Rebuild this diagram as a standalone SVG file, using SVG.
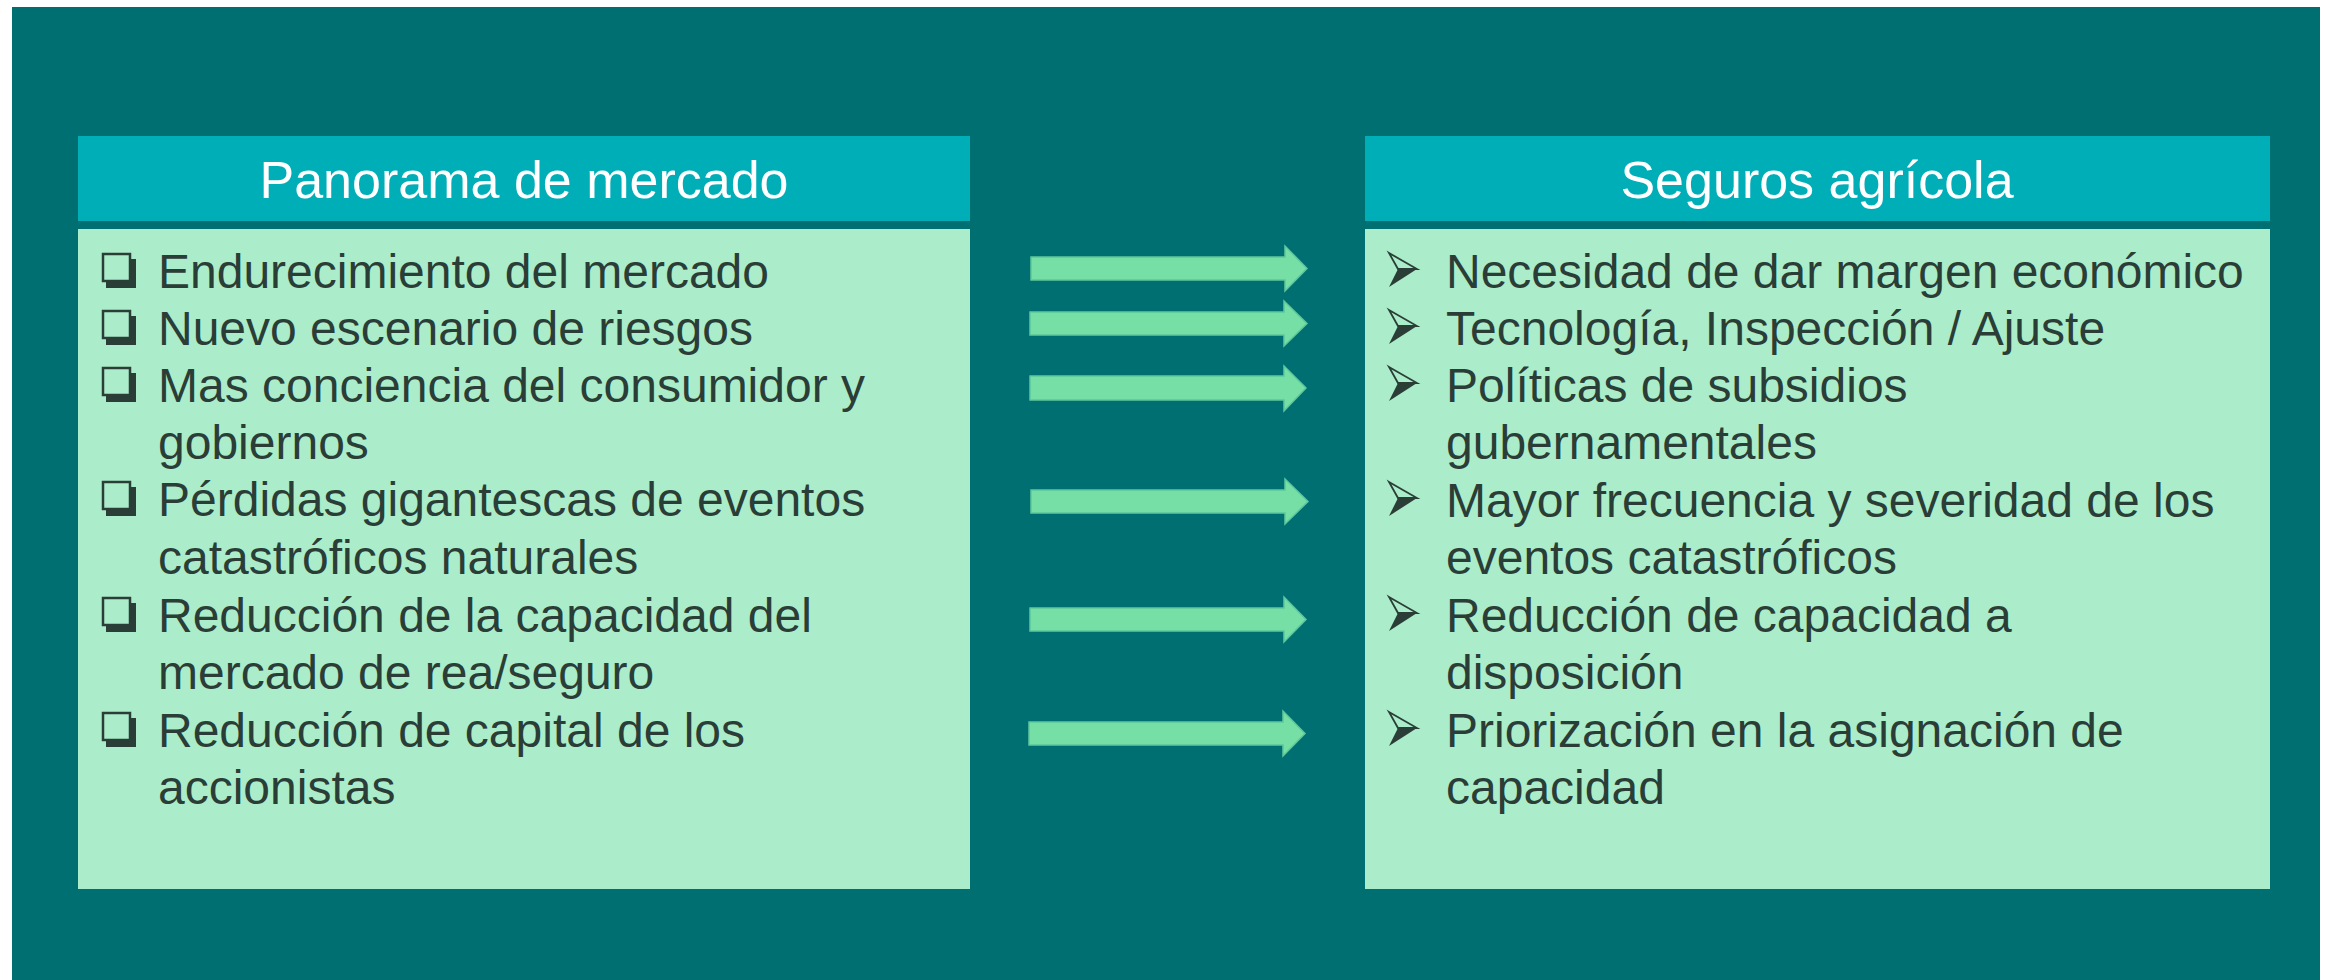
<svg xmlns="http://www.w3.org/2000/svg" width="2333" height="980" viewBox="0 0 2333 980">
<defs>
<style>
.bg{fill:#006f71}
.hdr{fill:#00aeb8}
.body{fill:#abedca}
.ht{font-family:"Liberation Sans",Arial,sans-serif;font-size:52px;fill:#ffffff;text-anchor:middle}
.t{font-family:"Liberation Sans",Arial,sans-serif;font-size:48px;fill:#2a3e37}
.arr{fill:#76dfa6;stroke:#5fc79c;stroke-width:1.5}
.dk{fill:#2a3e37}
</style>
<g id="chk">
<rect x="106" y="259" width="30" height="29" class="dk"/>
<rect x="103" y="254" width="27" height="27" fill="#abedca" stroke="#2a3e37" stroke-width="2.5"/>
</g>
<g id="tri">
<path d="M1389,253 L1417,269 L1398,269 Z" fill="none" stroke="#2a3e37" stroke-width="1.8" stroke-linejoin="miter"/>
<path d="M1398,269 L1417,269 L1389,287 Z" class="dk"/>
</g>
</defs>
<rect class="bg" x="12" y="7" width="2308" height="973"/>

<g id="left-node">
<rect class="hdr" x="78" y="136" width="892" height="85"/>
<text class="ht" x="524" y="198">Panorama de mercado</text>
<rect class="body" x="78" y="229" width="892" height="660"/>
<use href="#chk"/>
<use href="#chk" y="57"/>
<use href="#chk" y="114"/>
<use href="#chk" y="228"/>
<use href="#chk" y="344"/>
<use href="#chk" y="459"/>
<text class="t" x="158" y="288">Endurecimiento del mercado</text>
<text class="t" x="158" y="345">Nuevo escenario de riesgos</text>
<text class="t" x="158" y="402">Mas conciencia del consumidor y</text>
<text class="t" x="158" y="459">gobiernos</text>
<text class="t" x="158" y="516">Pérdidas gigantescas de eventos</text>
<text class="t" x="158" y="574">catastróficos naturales</text>
<text class="t" x="158" y="632">Reducción de la capacidad del</text>
<text class="t" x="158" y="689">mercado de rea/seguro</text>
<text class="t" x="158" y="747">Reducción de capital de los</text>
<text class="t" x="158" y="804">accionistas</text>
</g>

<g id="right-node">
<rect class="hdr" x="1365" y="136" width="905" height="85"/>
<text class="ht" x="1817" y="198">Seguros agrícola</text>
<rect class="body" x="1365" y="229" width="905" height="660"/>
<use href="#tri"/>
<use href="#tri" y="57"/>
<use href="#tri" y="114"/>
<use href="#tri" y="229"/>
<use href="#tri" y="344"/>
<use href="#tri" y="459"/>
<text class="t" x="1446" y="288">Necesidad de dar margen económico</text>
<text class="t" x="1446" y="345">Tecnología, Inspección / Ajuste</text>
<text class="t" x="1446" y="402">Políticas de subsidios</text>
<text class="t" x="1446" y="459">gubernamentales</text>
<text class="t" x="1446" y="517">Mayor frecuencia y severidad de los</text>
<text class="t" x="1446" y="574">eventos catastróficos</text>
<text class="t" x="1446" y="632">Reducción de capacidad a</text>
<text class="t" x="1446" y="689">disposición</text>
<text class="t" x="1446" y="747">Priorización en la asignación de</text>
<text class="t" x="1446" y="804">capacidad</text>
</g>

<g id="connectors">
<path class="arr" d="M1031,257 H1285 V246 L1307,268.5 L1285,291 V280 H1031 Z"/>
<path class="arr" d="M1030,312 H1284 V301 L1307,323.5 L1284,346 V335 H1030 Z"/>
<path class="arr" d="M1030,376 H1284 V366 L1306,388 L1284,411 V400 H1030 Z"/>
<path class="arr" d="M1031,490 H1285 V479 L1308,501.5 L1285,524 V513 H1031 Z"/>
<path class="arr" d="M1030,608 H1284 V597 L1306,619.5 L1284,642 V631 H1030 Z"/>
<path class="arr" d="M1029,722 H1283 V711 L1305,733.5 L1283,756 V745 H1029 Z"/>
</g>
</svg>
